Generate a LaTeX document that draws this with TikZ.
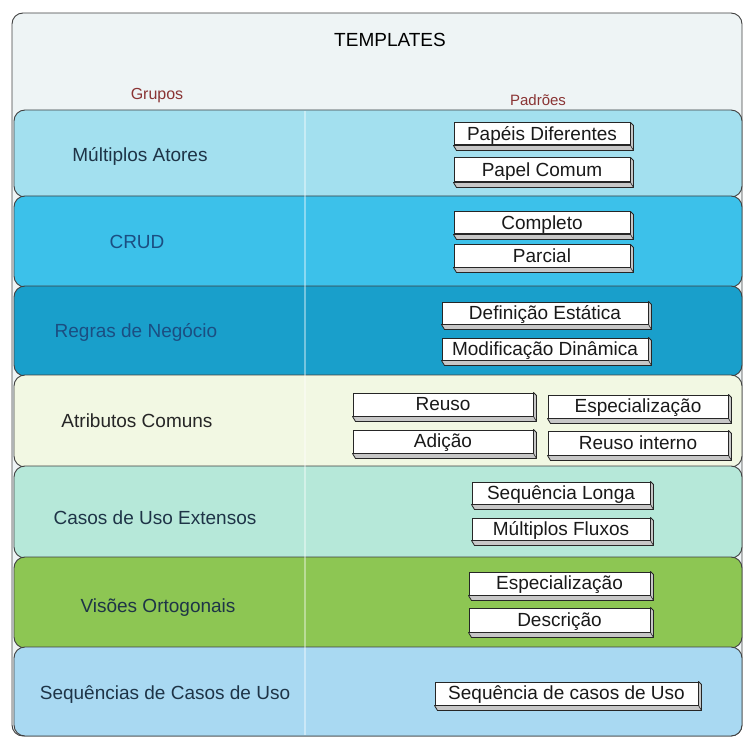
\documentclass[tikz,border=0pt]{standalone}
\usepackage{fontspec}
\setmainfont{Liberation Sans}
\begin{document}
\begin{tikzpicture}[x=1pt,y=-1pt,
  band/.style={draw=black!75, line width=0.9pt, rounded corners=11pt},
  lbl/.style={anchor=base, font=\fontsize{19}{22}\selectfont, inner sep=0pt},
  hdr/.style={anchor=base, font=\fontsize{15}{18}\selectfont, text=hdrred, inner sep=0pt},
  pbox/.style={draw=black!85, line width=1pt, fill=white, inner sep=0pt,
    text height=13.7pt, text depth=1pt,
    font=\fontsize{19}{22}\selectfont, text=black!90},
  ext/.style={draw=black!85, line width=0.8pt, fill=black!22, line join=round}
]
\definecolor{hdrbg}{HTML}{EEF4F5}
\definecolor{hdrred}{HTML}{8A3434}
\definecolor{cA}{HTML}{A3E0EF}
\definecolor{cB}{HTML}{3CC1EA}
\definecolor{cC}{HTML}{199FCB}
\definecolor{cD}{HTML}{F2F8E3}
\definecolor{cE}{HTML}{B6E8D9}
\definecolor{cF}{HTML}{8DC653}
\definecolor{cG}{HTML}{A9D9F2}
\definecolor{tdark}{HTML}{1E3447}
\definecolor{tblue}{HTML}{1B4E82}
\useasboundingbox (0,0) rectangle (747,738);
% outer frame / header
\path[band, fill=hdrbg] (12,13) rectangle (742,736);
% bands
\path[band, fill=cA] (14,110) rectangle (742,197);
\path[band, fill=cB] (14,196) rectangle (742,287);
\path[band, fill=cC] (14,286) rectangle (742,376);
\path[band, fill=cD] (14,375) rectangle (742,467);
\path[band, fill=cE] (14,466) rectangle (742,558);
\path[band, fill=cF] (14,557) rectangle (742,648);
\path[band, fill=cG] (14,647) rectangle (742,736);
% divider
\draw[white, opacity=0.4, line width=2pt] (305,111) -- (305,735);
% header texts
\node[lbl] (title) at (390,47) {TEMPLATES};
\node[hdr, font=\fontsize{16}{18}\selectfont] (grp) at (157,100) {Grupos};
\node[hdr] (pad) at (538,106) {Padrões};
% group labels
\node[lbl, text=tdark] (g1) at (140,162) {Múltiplos Atores};
\node[lbl, text=tblue] (g2) at (137,249) {CRUD};
\node[lbl, text=tblue] (g3) at (136,337) {Regras de Negócio};
\node[lbl, text=black!85] (g4) at (137,427) {Atributos Comuns};
\node[lbl, text=tdark] (g5) at (155,524) {Casos de Uso Extensos};
\node[lbl, text=tdark] (g6) at (158,612) {Visões Ortogonais};
\node[lbl, text=tdark] (g7) at (165,699) {Sequências de Casos de Uso};
% pattern boxes
\newcommand\pattbox[6]{%
  \node[pbox, minimum width=#4pt-#2pt, minimum height=#5pt-#3pt] (#1) at ({(#2+#4)/2},{(#3+#5)/2}) {#6};
  \path[ext] (#1.south west) -- ++(3,5) -- ([xshift=3pt,yshift=-5pt]#1.south east)
     -- ([xshift=3pt,yshift=-3pt]#1.north east) -- (#1.north east) -- (#1.south east) -- cycle;
  \draw[black!85, line width=0.6pt] (#1.south east) -- ([xshift=3pt,yshift=-5pt]#1.south east);
}
\pattbox{p1}{454}{123}{630}{145}{Papéis Diferentes}
\pattbox{p2}{454}{158}{630}{182}{Papel Comum}
\pattbox{p3}{454}{212}{630}{234}{Completo}
\pattbox{p4}{454}{245}{630}{267}{Parcial}
\pattbox{p5}{442}{302}{648}{324}{Definição Estática}
\pattbox{p6}{442}{338}{648}{360}{Modificação Dinâmica}
\pattbox{p7}{353}{393}{533}{416}{Reuso}
\pattbox{p8}{548}{395}{728}{418}{Especialização}
\pattbox{p9}{353}{430}{533}{453}{Adição}
\pattbox{p10}{548}{431}{728}{455}{Reuso interno}
\pattbox{p11}{472}{482}{650}{504}{Sequência Longa}
\pattbox{p12}{472}{518}{650}{540}{Múltiplos Fluxos}
\pattbox{p13}{469}{572}{650}{595}{Especialização}
\pattbox{p14}{469}{608}{650}{632}{Descrição}
\pattbox{p15}{435}{682}{698}{705}{Sequência de casos de Uso}
\end{tikzpicture}
\end{document}
